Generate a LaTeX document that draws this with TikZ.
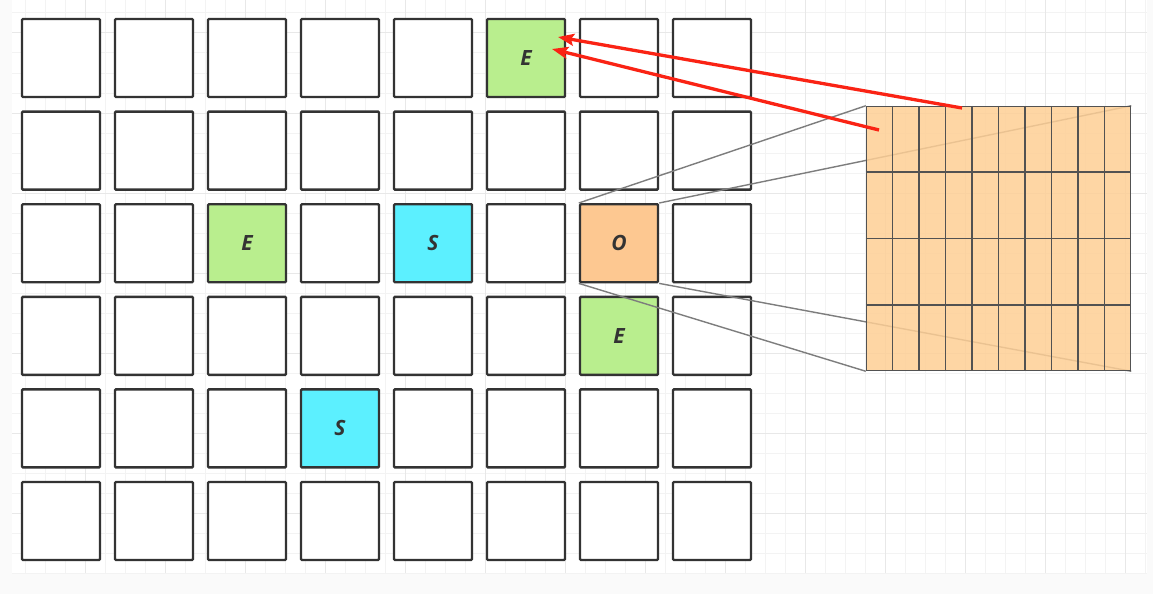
\documentclass[tikz,border=0pt]{standalone}
\usepackage{fontspec}
\newfontfamily\cellfont{Open Sans}
\usepackage{tikz}
\usetikzlibrary{arrows.meta, positioning, calc}
\usepackage{xcolor}
\definecolor{cellgreen}{RGB}{185,238,142}
\definecolor{cellcyan}{RGB}{92,240,255}
\definecolor{cellorange}{RGB}{253,200,145}
\definecolor{zoomorange}{RGB}{254,207,149}
\definecolor{edgegray}{RGB}{51,51,51}
\definecolor{linkgray}{RGB}{125,125,125}
\definecolor{arrowred}{RGB}{250,35,20}
\definecolor{gridlight}{RGB}{243,243,243}
\definecolor{gridheavy}{RGB}{232,232,232}
\pgfdeclarelayer{background}
\pgfdeclarelayer{front}
\pgfsetlayers{background,main,front}

\begin{document}
\begin{tikzpicture}[
        x=1pt, y=-1pt,
        cell/.style={draw=edgegray, line width=2.4pt, rounded corners=1pt, fill=white,
            minimum size=78pt, inner sep=0pt, text=edgegray,
            font=\cellfont\bfseries\itshape\fontsize{21}{21}\selectfont},
        c05/.style={fill=cellgreen, execute at begin node={E}},
        c22/.style={fill=cellgreen, execute at begin node={E}},
        c24/.style={fill=cellcyan, execute at begin node={S}},
        c26/.style={fill=cellorange, execute at begin node={O}},
        c36/.style={fill=cellgreen, execute at begin node={E}},
        c43/.style={fill=cellcyan, execute at begin node={S}},
        zoombox/.style={draw=edgegray!85, line width=1.5pt, fill=zoomorange, fill opacity=0.85,
            minimum size=264pt, inner sep=0pt},
        zoomline/.style={edgegray!85, line width=1.4pt},
        link/.style={linkgray, line width=1.4pt},
        hit/.style={arrowred, line width=3.3pt, -{Stealth[length=16pt, width=12pt, inset=3pt]}}
    ]
        \useasboundingbox (0,0) rectangle (1153,594);

        % paper grid
        \begin{pgfonlayer}{background}
            \fill[black!2] (0,0) rectangle (1153,594);
            \fill[white] (12,0) rectangle (1147,573);
            \foreach \gx in {25,45,...,1145} {
                \draw[gridlight, line width=1pt] (\gx,0) -- (\gx,573);
            }
            \foreach \gy in {13,33,...,573} {
                \draw[gridlight, line width=1pt] (12,\gy) -- (1147,\gy);
            }
            \foreach \gx in {85,165,...,1125} {
                \draw[gridheavy, line width=1pt] (\gx,0) -- (\gx,573);
            }
            \foreach \gy in {33,113,...,513} {
                \draw[gridheavy, line width=1pt] (12,\gy) -- (1147,\gy);
            }
        \end{pgfonlayer}

        % board
        \foreach \r in {0,...,5} {
            \foreach \c in {0,...,7} {
                \node[cell, c\r\c/.try] (c\r\c) at ({61+93*\c},{58+92.6*\r}) {};
            }
        }

        % zoomed cell
        \begin{pgfonlayer}{front}
            \node[zoombox] (zoom) at (998.5,238.5) {};
            \foreach \k in {1,...,9} {
                \draw[zoomline] ($(zoom.north west)!\k/10!(zoom.north east)$)
                    -- ($(zoom.south west)!\k/10!(zoom.south east)$);
            }
            \foreach \k in {1,2,3} {
                \draw[zoomline] ($(zoom.north west)!\k/4!(zoom.south west)$)
                    -- ($(zoom.north east)!\k/4!(zoom.south east)$);
            }
        \end{pgfonlayer}

        \draw[link] (c26.north west) -- (zoom.north west);
        \draw[link] (c26.north east) -- (zoom.north east);
        \draw[link] (c26.south west) -- (zoom.south west);
        \draw[link] (c26.south east) -- (zoom.south east);

        % red arrows back to E
        \coordinate (tail1) at (962,108);
        \coordinate (tail2) at (879,130);
        \coordinate (head1) at ($(c05)+(32,-21)$);
        \coordinate (head2) at ($(c05)+(26,-9)$);
        \begin{pgfonlayer}{front}
            \draw[hit] (tail1) -- (head1);
            \draw[hit] (tail2) -- (head2);
        \end{pgfonlayer}
\end{tikzpicture}
\end{document}
